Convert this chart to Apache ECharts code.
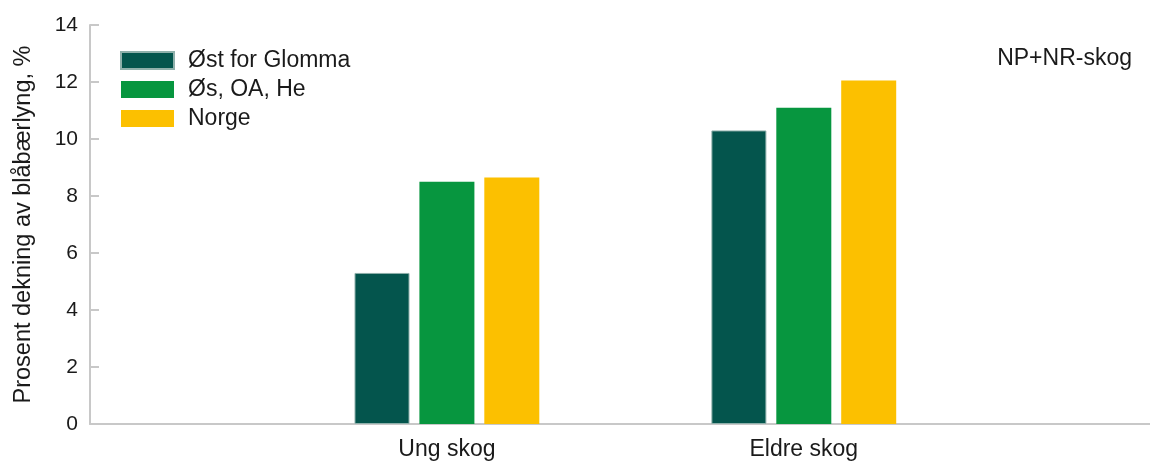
<!DOCTYPE html>
<html>
<head>
<meta charset="utf-8">
<script src="https://cdn.jsdelivr.net/npm/echarts@6/dist/echarts.min.js"></script>
<style>html,body{margin:0;padding:0;background:#fff}#c{width:1150px;height:461px}</style>
</head>
<body>
<div id="c"></div>
<script>
const categories = ['Ung skog', 'Eldre skog'];
const categoryPositions = [1, 2];
const seriesNames = ['Øst for Glomma', 'Øs, OA, He', 'Norge'];
const ostForGlomma = [5.3, 10.3];
const osOaHe = [8.5, 11.1];
const norge = [8.65, 12.05];
const colors = ['#04554d', '#07963f', '#fcc000'];
const yTicks = [0, 2, 4, 6, 8, 10, 12, 14];

const pair = arr => arr.map((v, i) => [categoryPositions[i], v]);
const chart = echarts.init(document.getElementById('c'));
const font = 'Liberation Sans, Arial, sans-serif';
chart.setOption({
  animation: false,
  textStyle: { fontFamily: font },
  title: {
    text: 'NP+NR-skog', right: 13, top: 42,
    textStyle: { fontSize: 23, fontWeight: 'normal', color: '#1a1a1a', fontFamily: font }
  },
  legend: {
    orient: 'vertical', left: 115, top: 44,
    itemWidth: 53, itemHeight: 17, itemGap: 6,
    icon: 'rect',
    textStyle: { fontSize: 23, color: '#1a1a1a', fontFamily: font, padding: [0, 0, 0, 9] },
    data: seriesNames
  },
  grid: { left: 90, right: 0, top: 25, bottom: 35, containLabel: false },
  xAxis: {
    type: 'value', min: 0, max: 2.97,
    axisLine: { show: true, lineStyle: { color: '#c8c8c8', width: 2 } },
    axisTick: { show: false },
    axisLabel: {
      fontSize: 23, color: '#1a1a1a', margin: 14, fontFamily: font,
      customValues: categoryPositions,
      formatter: v => categories[categoryPositions.indexOf(Math.round(v))] || ''
    },
    splitLine: { show: false }
  },
  yAxis: {
    type: 'value', min: yTicks[0], max: yTicks[yTicks.length - 1], interval: 2,
    name: 'Prosent dekning av blåbærlyng, %', nameLocation: 'middle', nameGap: 54, nameRotate: 90,
    nameTextStyle: { fontSize: 23.5, color: '#1a1a1a', fontFamily: font },
    axisLine: { show: true, lineStyle: { color: '#c8c8c8', width: 2 } },
    axisTick: { show: true, inside: true, length: 9, lineStyle: { color: '#c8c8c8', width: 2 } },
    axisLabel: { fontSize: 21, color: '#1a1a1a', margin: 12, fontFamily: font },
    splitLine: { show: false }
  },
  series: [
    { name: seriesNames[0], type: 'bar', data: pair(ostForGlomma), barWidth: 55, barGap: '18%', itemStyle: { color: colors[0], borderColor: '#8fb0ab', borderWidth: 1 } },
    { name: seriesNames[1], type: 'bar', data: pair(osOaHe), barWidth: 55, barGap: '18%', itemStyle: { color: colors[1] } },
    { name: seriesNames[2], type: 'bar', data: pair(norge), barWidth: 55, barGap: '18%', itemStyle: { color: colors[2] } }
  ]
});
</script>
</body>
</html>
